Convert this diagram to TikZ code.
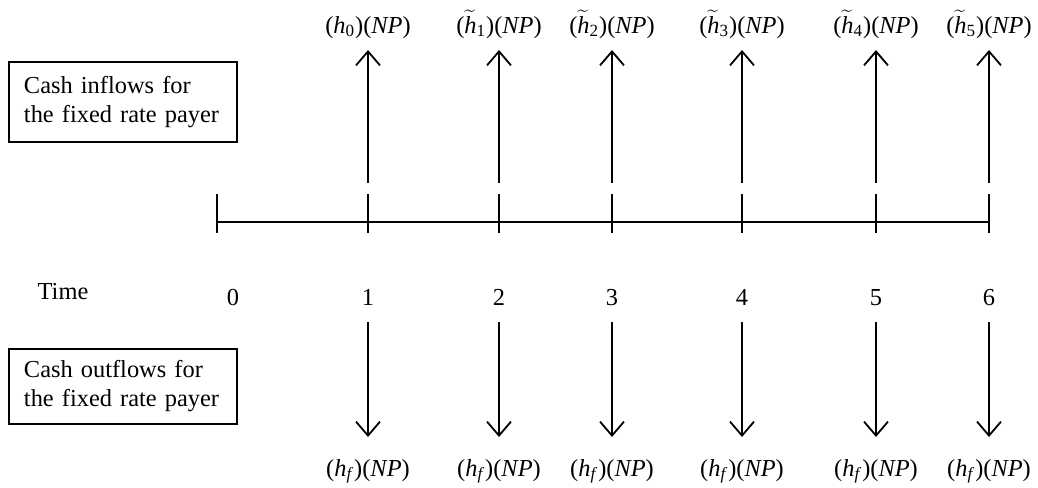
\documentclass[tikz,border=0pt]{standalone}
\usepackage{fontspec}
\setmainfont{Liberation Serif}
\usetikzlibrary{arrows.meta}
\newcommand{\hzero}{(\textit{h}\textsubscript{0})(\textit{NP})}
\newcommand{\htil}[1]{($\widetilde{\mbox{\textit{h}}}$\textsubscript{#1})(\textit{NP})}
\newcommand{\hfix}{(\textit{h}\textsubscript{\textit{f}})(\textit{NP})}
\begin{document}
\begin{tikzpicture}[x=0.5pt,y=-0.5pt,
  every node/.style={font=\fontsize{12.2}{14.5}\selectfont, inner sep=0pt},
  flowbox/.style={draw, line width=0.9pt, minimum width=114pt, text width=99pt,
    inner xsep=7.5pt, align=left},
  lbl/.style={anchor=base},
  arr/.style={line width=0.9pt, -{Straight Barb[length=7pt,width=12pt,line width=0.9pt]}},
  axisline/.style={line width=0.8pt}]
\useasboundingbox (0,0) rectangle (1038,487);

% boxes
\node[flowbox, minimum height=40pt] (inbox) at (123,102)
  {Cash inflows for\\the fixed rate payer};
\node[flowbox, minimum height=37.5pt] (outbox) at (123,386.5)
  {Cash outflows for\\the fixed rate payer};

% time axis
\node[lbl] (timelbl) at (63,299) {Time};
\coordinate (t0) at (217,222);
\coordinate (t6) at (989,222);
\draw[axisline] (t0) -- (t6);
\coordinate (k0a) at (217,194);
\coordinate (k0b) at (217,233);
\draw[axisline] (k0a) -- (k0b);
\node[lbl] (n0) at (233,305) {0};

\foreach \i/\x in {1/368,2/499,3/612,4/742,5/876,6/989}{
  \coordinate (ka\i) at (\x,194);
  \coordinate (kb\i) at (\x,233);
  \draw[axisline] (ka\i) -- (kb\i);
  \node[lbl] (n\i) at (\x,305) {\i};
  % inflow arrows
  \coordinate (ua\i) at (\x,183);
  \coordinate (ub\i) at (\x,50);
  \draw[arr] (ua\i) -- (ub\i);
  % outflow arrows
  \coordinate (da\i) at (\x,322);
  \coordinate (db\i) at (\x,437);
  \draw[arr] (da\i) -- (db\i);
  \node[lbl] (bl\i) at (\x,476) {\hfix};
}

\node[lbl] (tl1) at (368,33) {\hzero};
\node[lbl] (tl2) at (499,33) {\htil{1}};
\node[lbl] (tl3) at (612,33) {\htil{2}};
\node[lbl] (tl4) at (742,33) {\htil{3}};
\node[lbl] (tl5) at (876,33) {\htil{4}};
\node[lbl] (tl6) at (989,33) {\htil{5}};
\end{tikzpicture}
\end{document}
